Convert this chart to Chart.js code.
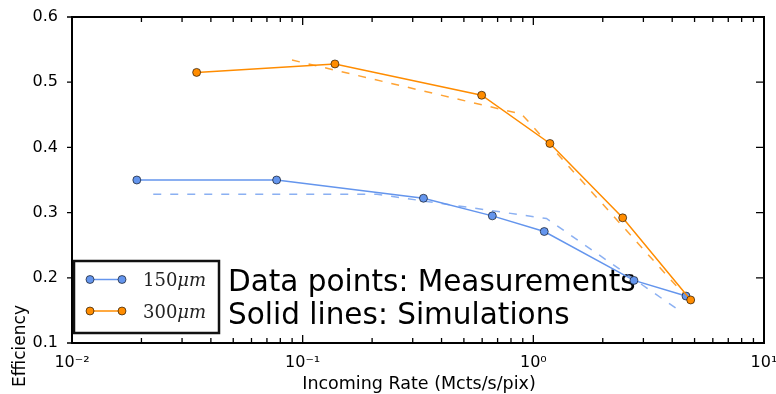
<!DOCTYPE html>
<html>
<head>
<meta charset="utf-8">
<script src="https://cdn.jsdelivr.net/npm/chart.js@4.4.0/dist/chart.umd.min.js"></script>
<style>
  body { margin: 0; background: #fff; }
  #wrap { width: 776px; height: 394px; }
</style>
</head>
<body>
<div id="wrap"><canvas id="eff" width="776" height="394"></canvas></div>
<script>
"use strict";
// rate in Mcts/s/pix, efficiency as fraction
let rate150 = [0.0191, 0.0771, 0.334, 0.664, 1.115, 2.73, 4.59];
let eff150 = [0.350, 0.350, 0.322, 0.295, 0.271, 0.196, 0.172];
let rate300 = [0.0347, 0.138, 0.597, 1.18, 2.44, 4.81];
let eff300 = [0.515, 0.528, 0.480, 0.406, 0.292, 0.166];
// dashed curves
let dashRate150 = [0.0225, 0.21, 1.14, 4.45];
let dashEff150 = [0.328, 0.328, 0.291, 0.146];
let dashRate300 = [0.0899, 0.89, 4.54];
let dashEff300 = [0.534, 0.451, 0.173];

let xTicks = [0.01, 0.1, 1, 10];
let xTickLabels = ["10\u207B\u00B2", "10\u207B\u00B9", "10\u2070", "10\u00B9"];
let yTicks = [0.1, 0.2, 0.3, 0.4, 0.5, 0.6];
let legendLabels = ["150", "300"];

let blue = "#6495ED";
let orange = "#FF8C00";

function pts(xs, ys) {
  let out = [];
  for (let i = 0; i < xs.length; i++) out.push({ x: xs[i], y: ys[i] });
  return out;
}

// frame, inward ticks, texts and the boxed legend
let decorations = {
  id: "decorations",
  beforeDatasetsDraw(chart) {
    let ctx = chart.ctx;
    ctx.save();
    ctx.fillStyle = "#000";
    ctx.font = "29.5px 'DejaVu Sans'";
    ctx.textBaseline = "alphabetic";
    ctx.textAlign = "left";
    ctx.fillText("Data points: Measurements", 228, 291);
    ctx.fillText("Solid lines: Simulations", 228, 324);
    ctx.restore();
  },
  afterDraw(chart) {
    let ctx = chart.ctx;
    let a = chart.chartArea;
    let xs = chart.scales.x;
    let ys = chart.scales.y;
    ctx.save();
    ctx.strokeStyle = "#000";
    ctx.setLineDash([]);

    // x ticks, major + minor, on bottom and top
    ctx.lineWidth = 1.3;
    for (let d = -2; d <= 1; d++) {
      for (let m = 1; m <= 9; m++) {
        let v = m * Math.pow(10, d);
        if (v > 10) break;
        let px = xs.getPixelForValue(v);
        let len = m == 1 ? 8 : 5;
        ctx.beginPath();
        ctx.moveTo(px, a.bottom);
        ctx.lineTo(px, a.bottom - len);
        ctx.moveTo(px, a.top);
        ctx.lineTo(px, a.top + len);
        ctx.stroke();
      }
    }
    // y ticks: outward on the left, inward on the right
    for (let i = 0; i < yTicks.length; i++) {
      let py = ys.getPixelForValue(yTicks[i]);
      ctx.beginPath();
      ctx.moveTo(a.left - 5, py);
      ctx.lineTo(a.left, py);
      ctx.moveTo(a.right, py);
      ctx.lineTo(a.right - 8, py);
      ctx.stroke();
    }
    ctx.lineWidth = 2;
    ctx.strokeRect(a.left, a.top, a.right - a.left, a.bottom - a.top);

    // axis titles
    ctx.fillStyle = "#000";
    ctx.font = "17.5px 'DejaVu Sans'";
    ctx.textAlign = "center";
    ctx.textBaseline = "alphabetic";
    ctx.fillText("Incoming Rate (Mcts/s/pix)", 419, 389);
    ctx.save();
    ctx.translate(25, 346);
    ctx.rotate(-Math.PI / 2);
    ctx.font = "17px 'DejaVu Sans'";
    ctx.fillText("Efficiency", 0, 0);
    ctx.restore();

    // legend box
    ctx.fillStyle = "#fff";
    ctx.fillRect(74, 261, 145, 72);
    ctx.lineWidth = 2.5;
    ctx.strokeStyle = "#111";
    ctx.strokeRect(74, 261, 145, 72);
    let rows = [{ c: blue, y: 279.5 }, { c: orange, y: 311 }];
    for (let i = 0; i < rows.length; i++) {
      let r = rows[i];
      ctx.strokeStyle = r.c;
      ctx.lineWidth = 1.5;
      ctx.beginPath();
      ctx.moveTo(90, r.y);
      ctx.lineTo(122, r.y);
      ctx.stroke();
      [90, 122].forEach(function (mx) {
        ctx.beginPath();
        ctx.arc(mx, r.y, 4, 0, Math.PI * 2);
        ctx.fillStyle = r.c;
        ctx.fill();
        ctx.lineWidth = 0.8;
        ctx.strokeStyle = "rgba(0,0,0,0.75)";
        ctx.stroke();
      });
      ctx.fillStyle = "#222";
      ctx.textAlign = "left";
      ctx.textBaseline = "alphabetic";
      ctx.font = "18px 'DejaVu Serif'";
      let base = r.y + 6.5;
      ctx.fillText(legendLabels[i], 143, base);
      let w = ctx.measureText(legendLabels[i]).width;
      ctx.font = "italic 18px 'DejaVu Serif'";
      ctx.fillText("\u03BCm", 143 + w, base);
    }
    ctx.restore();
  }
};

let ctx = document.getElementById("eff").getContext("2d");
let chart = new Chart(ctx, {
  type: "scatter",
  data: {
    datasets: [
      {
        label: "300um",
        data: pts(rate300, eff300),
        showLine: true,
        borderColor: orange,
        borderWidth: 1.5,
        backgroundColor: orange,
        pointRadius: 4,
        pointBorderWidth: 0.8,
        pointBorderColor: "rgba(0,0,0,0.75)",
        tension: 0,
      },
      {
        label: "150um",
        data: pts(rate150, eff150),
        showLine: true,
        borderColor: blue,
        borderWidth: 1.5,
        backgroundColor: blue,
        pointRadius: 4,
        pointBorderWidth: 0.8,
        pointBorderColor: "rgba(0,0,0,0.75)",
        tension: 0,
      },
      {
        label: "300um dashed",
        data: pts(dashRate300, dashEff300),
        showLine: true,
        borderColor: "rgba(255,140,0,0.8)",
        borderWidth: 1.5,
        borderDash: [8, 9],
        pointRadius: 0,
        tension: 0,
      },
      {
        label: "150um dashed",
        data: pts(dashRate150, dashEff150),
        showLine: true,
        borderColor: "rgba(100,149,237,0.75)",
        borderWidth: 1.5,
        borderDash: [8, 9],
        pointRadius: 0,
        tension: 0,
      },
    ],
  },
  options: {
    responsive: false,
    animation: false,
    devicePixelRatio: 1,
    layout: { padding: { top: 17, right: 12, left: 0, bottom: 0 } },
    plugins: { legend: { display: false }, tooltip: { enabled: false } },
    scales: {
      x: {
        type: "logarithmic",
        min: 0.01,
        max: 10,
        grid: { display: false },
        border: { display: false },
        afterBuildTicks: function (s) {
          s.ticks = xTicks.map(function (v) { return { value: v, major: true }; });
        },
        afterFit: function (s) {
          s.height = 51;
          s.paddingLeft = 0;
          s.paddingRight = 0;
        },
        ticks: {
          autoSkip: false,
          maxRotation: 0,
          padding: 2,
          color: "#000",
          font: { family: "DejaVu Sans", size: 16 },
          callback: function (v) {
            let i = xTicks.indexOf(v);
            return i >= 0 ? xTickLabels[i] : "";
          },
        },
      },
      y: {
        min: 0.1,
        max: 0.6,
        grid: { display: false },
        border: { display: false },
        afterBuildTicks: function (s) {
          s.ticks = yTicks.map(function (v) { return { value: v }; });
        },
        afterFit: function (s) {
          s.width = 72;
        },
        ticks: {
          padding: 6,
          color: "#000",
          font: { family: "DejaVu Sans", size: 16 },
          callback: function (v) { return v.toFixed(1); },
        },
      },
    },
  },
  plugins: [decorations],
});
</script>
</body>
</html>
